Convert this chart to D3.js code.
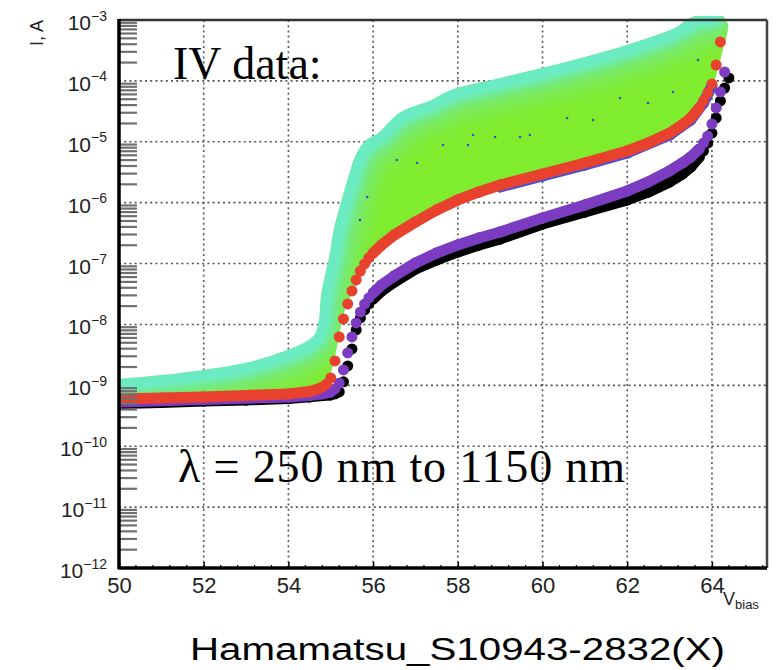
<!DOCTYPE html>
<html>
<head>
<meta charset="utf-8">
<script src="https://cdn.jsdelivr.net/npm/d3@7"></script>
<style>
  body { margin: 0; background: #fff; }
  svg { display: block; }
  text { font-family: "Liberation Sans", Arial, sans-serif; }
  .serif { font-family: "Liberation Serif", "Times New Roman", serif; }
</style>
</head>
<body>
<div id="chart"></div>
<script>

// DATA  -> [bias voltage (V), current (A)]
// darkest curve (bottom)
var black = [[50,5.05e-10],[51,5.24e-10],[52,5.55e-10],[53,5.75e-10],[54,6.10e-10],[54.5,6.46e-10],[54.8,6.82e-10],
  [55.0,6.95e-10],[55.1,7.23e-10],[55.2,7.80e-10],[55.3,1.14e-9],[55.4,2.08e-9],[55.5,3.96e-9],[55.6,8.13e-9],
  [55.7,1.28e-8],[55.8,1.73e-8],[55.9,2.17e-8],[56.0,2.62e-8],[56.2,3.55e-8],[56.5,4.99e-8],[57,8.15e-8],
  [57.5,1.15e-7],[58,1.55e-7],[58.5,2.02e-7],[59,2.54e-7],[60,4.47e-7],[61,7.03e-7],[62,1.11e-6],[62.5,1.50e-6],
  [63,2.19e-6],[63.3,2.96e-6],[63.5,3.85e-6],[63.7,5.62e-6],[63.8,7.06e-6],[63.9,9.55e-6],[64.0,1.39e-5],
  [64.1,2.46e-5],[64.2,4.68e-5],[64.3,7.64e-5],[64.4,1.12e-4]];

var purple = [[50,5.33e-10],[52,5.86e-10],[54,6.46e-10],[54.5,6.82e-10],[54.8,7.23e-10],[55.0,7.80e-10],
  [55.1,8.73e-10],[55.2,1.09e-9],[55.3,1.79e-9],[55.4,3.40e-9],[55.5,6.24e-9],[55.6,1.06e-8],[55.7,1.60e-8],
  [55.8,2.17e-8],[55.9,2.72e-8],[56.0,3.29e-8],[56.2,4.46e-8],[56.5,6.25e-8],[57,1.02e-7],[57.5,1.49e-7],
  [58,2.02e-7],[58.5,2.63e-7],[59,3.30e-7],[60,5.61e-7],[61,9.16e-7],[62,1.56e-6],[62.5,2.19e-6],[63,3.32e-6],
  [63.3,4.49e-6],[63.5,5.62e-6],[63.7,7.62e-6],[63.8,9.55e-6],[63.9,1.24e-5],[64.0,1.96e-5],[64.1,3.59e-5],
  [64.2,6.58e-5],[64.3,1.40e-4]];

var blue = [[59,1.81e-6],[60,2.74e-6],[61,4.16e-6],[62,6.54e-6],[63,1.29e-5],[63.5,2.28e-5],
  [63.8,4.34e-5],[64.0,8.24e-5]];

var red = [[50,5.98e-10],[51,6.21e-10],[52,6.46e-10],[53,6.82e-10],[54,7.23e-10],[54.5,7.94e-10],[54.7,8.73e-10],
  [54.8,9.42e-10],[54.9,1.05e-9],[55.0,1.32e-9],[55.1,2.52e-9],[55.2,6.24e-9],[55.3,1.23e-8],[55.4,2.17e-8],
  [55.5,3.55e-8],[55.6,5.38e-8],[55.7,7.55e-8],[55.8,9.84e-8],[55.9,1.24e-7],[56.0,1.49e-7],[56.2,2.02e-7],
  [56.5,2.95e-7],[57,4.82e-7],[57.5,7.59e-7],[58,1.11e-6],[58.5,1.50e-6],[59,1.95e-6],[60,2.96e-6],[61,4.49e-6],
  [62,7.06e-6],[62.5,9.55e-6],[63,1.39e-5],[63.3,1.89e-5],[63.5,2.46e-5],[63.7,3.59e-5],[63.8,4.68e-5],
  [63.9,6.32e-5],[64.0,8.89e-5],[64.1,1.82e-4],[64.2,4.36e-4]];

// the dense band of the other wavelengths: highest curve and lowest curve
var bandTop = [[50,1.04e-9],[51,1.20e-9],[52,1.46e-9],[53,1.90e-9],[54,3.10e-9],[54.5,4.44e-9],[54.75,6.47e-9],
  [54.85,1.19e-8],[54.9,3.05e-8],[55.0,6.50e-8],[55.1,1.38e-7],[55.2,3.56e-7],[55.35,8.83e-7],[55.55,2.64e-6],
  [55.7,5.42e-6],[55.9,8.85e-6],[56.2,1.18e-5],[56.7,2.55e-5],[57.4,3.94e-5],[57.85,5.75e-5],[59,9.06e-5],
  [60.2,1.43e-4],[62,3.16e-4],[63.2,6.24e-4],[63.55,9.10e-4],[64.1,1.05e-3]];

var bandLow = [[50,7.23e-10],[52,7.80e-10],[54,9.06e-10],[54.5,1.02e-9],[54.8,1.23e-9],[54.9,1.93e-9],
  [55.0,3.81e-9],[55.1,8.77e-9],[55.2,1.73e-8],[55.4,3.69e-8],[55.6,6.50e-8],[56,1.67e-7],[56.5,3.43e-7],
  [57,5.82e-7],[58,1.44e-6],[59,2.36e-6],[60,3.57e-6],[61,5.42e-6],[62,8.53e-6],[63,1.69e-5],[63.5,3.08e-5],
  [63.8,5.86e-5],[64.0,1.51e-4],[64.15,3.88e-4],[64.25,8.28e-4]];

// a few single blue points that show through the band
var strayPoints = [[55.69,5.20e-7],[55.86,1.24e-6],[56.56,5.02e-6],[57.04,4.49e-6],[57.65,8.85e-6],[58.24,8.85e-6],
  [58.36,1.29e-5],[58.88,1.20e-5],[59.47,1.20e-5],[59.70,1.29e-5],[60.58,2.46e-5],[61.19,2.28e-5],
  [61.83,5.24e-5],[62.49,4.34e-5],[63.08,6.58e-5],[63.67,2.20e-4]];

var xTicks = [50, 52, 54, 56, 58, 60, 62, 64];
var yDecades = [-3, -4, -5, -6, -7, -8, -9, -10, -11, -12];

// VARIABLES
var width = 779;
var height = 670;
var plotLeft = 119, plotRight = 767, plotTop = 20, plotBottom = 568;
var radiusMarker = 5.5;

var xScale = d3.scaleLinear()
    .domain([50, 65.3])
    .range([plotLeft, plotRight]);

var yScale = d3.scaleLog()
    .domain([1e-12, 1e-3])
    .range([plotBottom, plotTop]);

// smooth line for the band edges
var bandLine = d3.line()
    .curve(d3.curveCatmullRom.alpha(0.5))
    .x(function(d) { return xScale(d[0]); })
    .y(function(d) { return yScale(d[1]); });

//Create SVG element
var svg = d3.select("#chart")
    .append("svg")
    .attr("width", width)
    .attr("height", height);

var defs = svg.append("defs");

defs.append("clipPath")
    .attr("id", "plotClip")
    .append("rect")
    .attr("x", plotLeft)
    .attr("y", plotTop - 4)
    .attr("width", plotRight - plotLeft)
    .attr("height", plotBottom - plotTop + 4);

// outline of the band (top curve, then low curve backwards)
var bandOutline = bandTop.concat(bandLow.slice().reverse());

defs.append("mask")
    .attr("id", "bandMask")
    .attr("maskUnits", "userSpaceOnUse")
    .attr("x", 0).attr("y", 0)
    .attr("width", width).attr("height", height)
    .append("path")
    .attr("d", bandLine(bandOutline) + "Z")
    .attr("fill", "#fff")
    .attr("stroke", "#fff")
    .attr("stroke-width", radiusMarker * 2)
    .attr("stroke-linejoin", "round");

defs.append("filter")
    .attr("id", "soft")
    .attr("x", "-20%").attr("y", "-20%")
    .attr("width", "140%").attr("height", "140%")
    .append("feGaussianBlur")
    .attr("stdDeviation", 5);

defs.append("filter")
    .attr("id", "softer")
    .attr("x", "-20%").attr("y", "-20%")
    .attr("width", "140%").attr("height", "140%")
    .append("feGaussianBlur")
    .attr("stdDeviation", 10);

// GRID
var grid = svg.append("g");

grid.selectAll(".vgrid")
    .data(xTicks.slice(1))
    .enter()
    .append("line")
    .attr("x1", function(d) { return xScale(d); })
    .attr("x2", function(d) { return xScale(d); })
    .attr("y1", plotTop)
    .attr("y2", plotBottom)
    .attr("stroke", "#555")
    .attr("stroke-width", 1.6)
    .attr("stroke-dasharray", "2,3.2");

grid.selectAll(".hgrid")
    .data(yDecades.slice(1, -1))
    .enter()
    .append("line")
    .attr("x1", plotLeft)
    .attr("x2", plotRight)
    .attr("y1", function(d) { return yScale(Math.pow(10, d)); })
    .attr("y2", function(d) { return yScale(Math.pow(10, d)); })
    .attr("stroke", "#555")
    .attr("stroke-width", 1.6)
    .attr("stroke-dasharray", "2,3.2");

var plot = svg.append("g")
    .attr("clip-path", "url(#plotClip)");

// BAND: green body, cyan fading in from its top edge
var band = plot.append("g")
    .attr("mask", "url(#bandMask)");

band.append("rect")
    .attr("x", plotLeft)
    .attr("y", 0)
    .attr("width", plotRight - plotLeft)
    .attr("height", plotBottom)
    .attr("fill", "#80ec2e");

band.append("path")
    .attr("d", bandLine(bandTop))
    .attr("fill", "none")
    .attr("stroke", "#6ee9b4")
    .attr("stroke-opacity", 0.55)
    .attr("stroke-width", 44)
    .attr("stroke-linecap", "round")
    .attr("stroke-linejoin", "round")
    .attr("filter", "url(#softer)");

band.append("path")
    .attr("d", bandLine(bandTop))
    .attr("fill", "none")
    .attr("stroke", "#6aebcc")
    .attr("stroke-width", 16)
    .attr("stroke-linecap", "round")
    .attr("stroke-linejoin", "round")
    .attr("filter", "url(#soft)");

plot.append("g")
    .selectAll("circle")
    .data(strayPoints)
    .enter()
    .append("circle")
    .attr("cx", function(d) { return xScale(d[0]); })
    .attr("cy", function(d) { return yScale(d[1]); })
    .attr("r", 1.3)
    .attr("fill", "#3552c8");

// markers; where the points are far apart the markers melt into a thick trace
var drawSeries = function(data, color) {
  var pairs = d3.pairs(data).filter(function(p) { return p[1][0] - p[0][0] > 0.15; });
  var g = plot.append("g");
  g.selectAll("line")
     .data(pairs)
     .enter()
     .append("line")
     .attr("x1", function(p) { return xScale(p[0][0]); })
     .attr("y1", function(p) { return yScale(p[0][1]); })
     .attr("x2", function(p) { return xScale(p[1][0]); })
     .attr("y2", function(p) { return yScale(p[1][1]); })
     .attr("stroke", color)
     .attr("stroke-width", radiusMarker * 2)
     .attr("stroke-linecap", "round");
  g.selectAll("circle")
     .data(data)
     .enter()
     .append("circle")
     .attr("cx", function(d) { return xScale(d[0]); })
     .attr("cy", function(d) { return yScale(d[1]); })
     .attr("r", radiusMarker)
     .attr("fill", color);
};

drawSeries(black, "#000");
drawSeries(purple, "#7b3cc2");
drawSeries(blue, "#4a4fd8");
drawSeries(red, "#e8422f");

// FRAME
svg.append("line")
    .attr("x1", plotLeft).attr("x2", plotRight)
    .attr("y1", plotTop).attr("y2", plotTop)
    .attr("stroke", "#333").attr("stroke-width", 2.5);
svg.append("line")
    .attr("x1", plotRight).attr("x2", plotRight)
    .attr("y1", plotTop).attr("y2", plotBottom)
    .attr("stroke", "#444").attr("stroke-width", 2.5);

// Y axis: minor ticks inside, decade labels
var minorY = yScale.ticks().filter(function(t) {
  return Math.abs(Math.log10(t) - Math.round(Math.log10(t))) > 1e-6;
});

svg.append("g")
    .selectAll("line")
    .data(minorY)
    .enter()
    .append("line")
    .attr("x1", plotLeft)
    .attr("x2", plotLeft + 18)
    .attr("y1", function(d) { return yScale(d); })
    .attr("y2", function(d) { return yScale(d); })
    .attr("stroke", "#707070")
    .attr("stroke-width", 2.2);

svg.append("line")
    .attr("x1", plotLeft).attr("x2", plotLeft)
    .attr("y1", plotTop - 1).attr("y2", plotBottom + 1)
    .attr("stroke", "#000").attr("stroke-width", 3.5);

var yLabels = svg.append("g")
    .selectAll("text")
    .data(yDecades)
    .enter()
    .append("text")
    .attr("x", 107)
    .attr("y", function(d) { return yScale(Math.pow(10, d)) + 10; })
    .attr("text-anchor", "end")
    .attr("fill", "#222");
yLabels.append("tspan")
    .attr("font-size", "21px")
    .text("10");
yLabels.append("tspan")
    .attr("font-size", "14px")
    .attr("dy", -9.5)
    .text(function(d) { return "\u2212" + (-d); });

// X axis
var xAxis = d3.axisBottom(xScale)
    .tickValues(xTicks)
    .tickSize(-6)
    .tickPadding(9)
    .tickFormat(d3.format("d"));

var gx = svg.append("g")
    .attr("transform", "translate(0," + plotBottom + ")")
    .call(xAxis);
gx.attr("font-size", null).attr("font-family", null);
gx.select(".domain").remove();
gx.selectAll(".tick line").attr("stroke", "#000").attr("stroke-width", 1.5);
gx.selectAll(".tick text")
    .style("font-size", "22px")
    .style("font-family", "'Liberation Sans', Arial, sans-serif")
    .attr("fill", "#222");

svg.append("g")
    .selectAll("line")
    .data(d3.range(50.4, 65.2, 0.4))
    .enter()
    .append("line")
    .attr("x1", function(d) { return xScale(d); })
    .attr("x2", function(d) { return xScale(d); })
    .attr("y1", plotBottom)
    .attr("y2", plotBottom - 3)
    .attr("stroke", "#000")
    .attr("stroke-width", 1.2);

svg.append("line")
    .attr("x1", plotLeft - 1).attr("x2", plotRight)
    .attr("y1", plotBottom).attr("y2", plotBottom)
    .attr("stroke", "#000").attr("stroke-width", 3.5);

// axis titles
svg.append("text")
    .attr("transform", "translate(43," + plotTop + ") rotate(-90)")
    .attr("text-anchor", "end")
    .attr("font-size", "18px")
    .attr("fill", "#222")
    .text("I, A");

var vb = svg.append("text")
    .attr("x", 723)
    .attr("y", 605)
    .attr("fill", "#222");
vb.append("tspan").attr("font-size", "18px").text("V");
vb.append("tspan").attr("font-size", "13px").attr("dy", 4).text("bias");

// annotations
svg.append("text")
    .attr("class", "serif")
    .attr("x", 173)
    .attr("y", 79)
    .attr("font-size", "46px")
    .attr("fill", "#000")
    .text("IV data:");

svg.append("text")
    .attr("class", "serif")
    .attr("x", 178)
    .attr("y", 482)
    .attr("font-size", "46px")
    .attr("textLength", 447)
    .attr("lengthAdjust", "spacing")
    .attr("fill", "#000")
    .text("\u03bb = 250 nm to 1150 nm");

svg.append("text")
    .attr("x", 190)
    .attr("y", 660)
    .attr("font-size", "31px")
    .attr("textLength", 535)
    .attr("lengthAdjust", "spacingAndGlyphs")
    .attr("fill", "#000")
    .text("Hamamatsu_S10943-2832(X)");

</script>
</body>
</html>
